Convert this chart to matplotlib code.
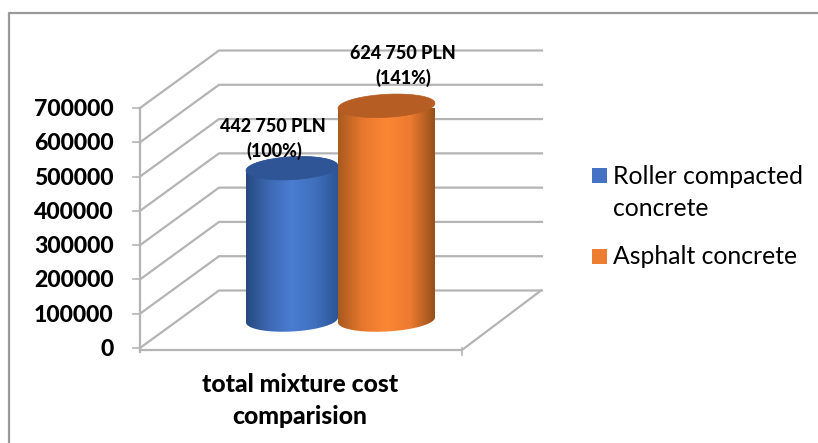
import matplotlib
matplotlib.use("Agg")
import matplotlib.pyplot as plt
import numpy as np
from matplotlib.colors import LinearSegmentedColormap
from matplotlib.patches import PathPatch, Rectangle
from matplotlib.path import Path
from matplotlib.lines import Line2D

plt.rcParams['font.family'] = ['Lato', 'DejaVu Sans']

series = ["Roller compacted", "concrete", "Asphalt concrete"]
values = [442750, 624750]
labels = ["442 750 PLN", "(100%)", "624 750 PLN", "(141%)"]
yticks = [0, 100000, 200000, 300000, 400000, 500000, 600000, 700000]
category = ["total mixture cost", "comparision"]

W, H = 818, 443
fig = plt.figure(figsize=(W / 100, H / 100), dpi=100)
# axes box = front plane of the fake 3d chart, x units are pixels
ax = fig.add_axes([140 / W, (H - 348) / H, 322 / W, 240 / H])
ax.axis("off")
per_px = 700000 / 240
dx, dy = 79, 57.5 * per_px
grey = "#b4b4b4"
bold = dict(fontweight="black", color="black")

# outer frame, only top and left are visible
fig.add_artist(Line2D([8.8 / W, 8.8 / W, 1], [0, 1 - 12.8 / H, 1 - 12.8 / H], color="#9a9a9a", lw=1.6))

for v in yticks:
    ax.plot([140, 140 + dx, 542], [v, v + dy, v + dy], color=grey, lw=1.6, clip_on=False)
    ax.plot([133, 140], [v, v], color=grey, lw=1.2, clip_on=False)
    ax.text(113.5, v - 1.5 * per_px, str(v), ha="right", va="center", fontsize=16.6, **bold)
ax.plot([140, 140], [-4 * per_px, 700000], color=grey, lw=1.6, clip_on=False)
ax.plot([140, 462, 462 + dx], [-2 * per_px, -2 * per_px, dy], color=grey, lw=1.6, clip_on=False)
ax.plot([462, 462], [-7 * per_px, 0], color=grey, lw=1.2, clip_on=False)


def cylinder(x0, x1, v, cols, top, zorder):
    # tilted ellipses for the ends, body gets a horizontal gradient
    cx, rx = (x0 + x1) / 2, (x1 - x0) / 2
    ry, slope = 11.5, np.tan(np.radians(3))
    base = 28 * per_px

    def half(a, b, level):
        t = np.linspace(a, b, 50)
        ex = rx * np.cos(t)
        return cx + ex, level + (ry * np.sin(t) + ex * slope) * per_px

    low_x, low_y = half(np.pi, 2 * np.pi, base)
    back_x, back_y = half(0, np.pi, base + v)
    body = PathPatch(Path(np.c_[np.r_[low_x, back_x], np.r_[low_y, back_y]]), fc="none", ec="none")
    ax.add_patch(body)
    cmap = LinearSegmentedColormap.from_list("c", cols)
    im = ax.imshow(np.linspace(0, 1, 200)[None, :], extent=[x0, x1, 0, base + v + 15 * per_px], cmap=cmap,
                   aspect="auto", zorder=zorder)
    im.set_clip_path(body)
    up_x, up_y = half(0, 2 * np.pi, base + v)
    ax.add_patch(PathPatch(Path(np.c_[up_x, up_y]), fc=top, ec=top, lw=0.5, zorder=zorder + 0.1, clip_on=False))


blue_cols = ["#264a80", "#3d69b3", "#4a7dd2", "#4070bd", "#2d5597"]
orange_cols = ["#a85a1e", "#e8772e", "#fb8735", "#ec7a30", "#98501a"]
cylinder(246, 338, values[0], blue_cols, "#2f5597", 3)
cylinder(338, 435, values[1], orange_cols, "#b55d22", 4)
ax.set_xlim(140, 462)
ax.set_ylim(0, 700000)

lab_pos = [(273, 126.5), (274, 151), (403, 53.5), (403, 78)]
for (px, py), txt in zip(lab_pos, labels):
    ax.text(px, (348 - py) * per_px, txt, ha="center", va="center", fontsize=13, zorder=6, clip_on=False, **bold)

for py, txt in zip([385, 417], category):
    fig.text(300 / W, 1 - py / H, txt, ha="center", va="center", fontsize=17.8, **bold)

for py, col in zip([175.5, 256.5], ["#4472c4", "#ed7d31"]):
    fig.add_artist(Rectangle((592 / W, 1 - (py + 7.5) / H), 15 / W, 15 / H, fc=col, ec="none"))
for py, txt in zip([176, 209, 257], series):
    fig.text(613 / W, 1 - py / H, txt, va="center", fontsize=17.8, color="black")

fig.savefig("out.png", dpi=100)
